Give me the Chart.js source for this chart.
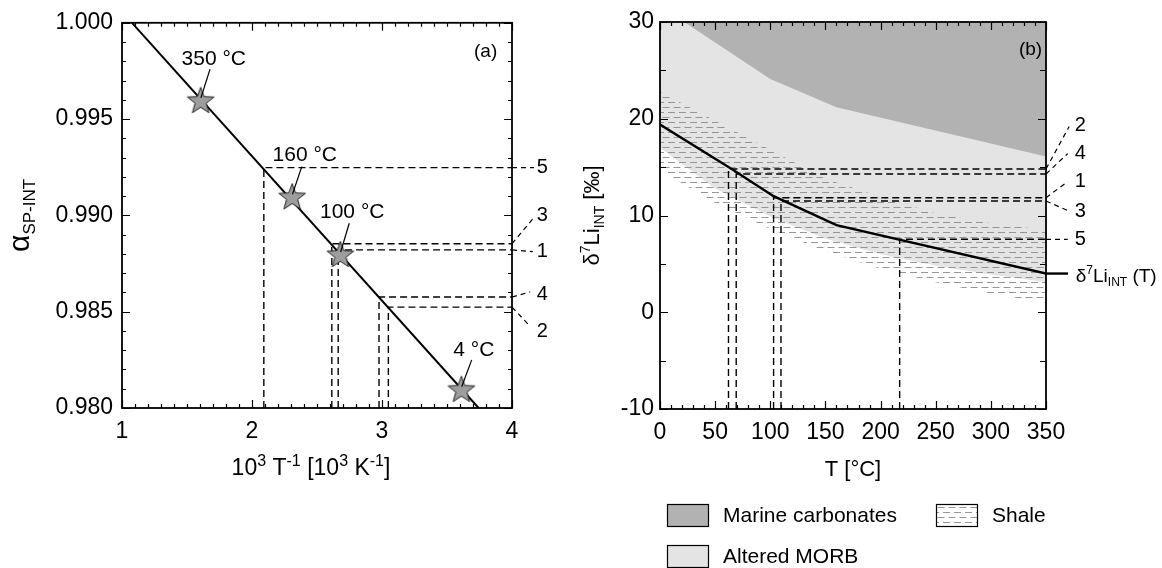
<!DOCTYPE html>
<html>
<head>
<meta charset="utf-8">
<script src="https://cdn.jsdelivr.net/npm/chart.js@4.4.1/dist/chart.umd.min.js"></script>
<style>
html, body { margin: 0; padding: 0; background: #fff; }
#wrap { position: relative; width: 1162px; height: 568px; }
#chartA { position: absolute; left: 0; top: 0; width: 580px; height: 568px; }
#chartB { position: absolute; left: 580px; top: 0; width: 582px; height: 568px; }
</style>
</head>
<body>
<div id="wrap">
<canvas id="chartA" width="580" height="568"></canvas>
<canvas id="chartB" width="582" height="568"></canvas>
</div>
<script>
var FONT = '"Liberation Sans", Arial, Helvetica, sans-serif'

// ---- panel (a) : alpha vs 1000/T ----
var fitInvT = [1.077, 3.743]
var fitAlpha = [1.000, 0.980]

var starLabels = ['350 °C', '160 °C', '100 °C', '4 °C']
var starInvT = [1.605, 2.309, 2.680, 3.611]
var starAlpha = [0.9960, 0.9910, 0.9880, 0.9810]
var starTagInvT = [1.706, 2.406, 2.771, 3.706]
var starTagAlpha = [0.99809, 0.99314, 0.99015, 0.98302]
var starLeadInvT = [1.677, 2.383, 2.748, 3.690]
var starLeadAlpha = [0.99759, 0.99253, 0.98959, 0.98250]

var samplesA = ['5', '3', '1', '4', '2']
var sampleInvT = [2.091, 2.614, 2.663, 2.977, 3.049]
var sampleAlpha = [0.99248, 0.98853, 0.98821, 0.98576, 0.98524]
var tagEndInvT = [4.17, 4.17, 4.16, 4.14, 4.13]
var tagEndAlpha = [0.99248, 0.98990, 0.98812, 0.98603, 0.98431]
var tagAlpha = [0.99248, 0.98998, 0.98814, 0.98590, 0.98397]
var tagInvT = 4.19

// ---- panel (b) : delta7Li vs T ----
var curveT = [0, 65, 103, 160, 350]
var curveDelta = [19.4, 14.8, 12.0, 9.0, 4.0]
var curveTailT = [350, 370]

var carbT = [22, 100, 160, 350]
var carbLow = [30, 24.1, 21.2, 16.1]
var morbT = [0, 50, 100, 150, 200, 250, 300, 350]
var morbLow = [17.0, 12.8, 9.9, 7.6, 6.0, 4.8, 3.9, 3.1]
var shaleT = [0, 50, 100, 150, 200, 250, 300, 350]
var shaleTop = [22.8, 19.8, 16.8, 13.8, 11.9, 10.2, 9.2, 8.5]
var shaleBottom = [14.7, 11.3, 8.6, 6.3, 4.5, 3.1, 1.9, 1.0]

var samplesB = ['2', '4', '1', '3', '5']
var sampleT = [62.1, 69.1, 103.0, 109.7, 217.3]
var sampleDelta = [14.81, 14.29, 11.84, 11.50, 7.54]
var tagEndT = [371, 369.7, 369.7, 371.8, 369.7]
var tagEndDelta = [19.2, 16.4, 13.5, 10.4, 7.54]
var tagDelta = [19.35, 16.43, 13.5, 10.4, 7.5]
var tagT = 376

var legendLabels = ['Marine carbonates', 'Shale', 'Altered MORB']
var carbColor = '#b2b2b2'
var morbColor = '#e4e4e4'

function pts(xs, ys) {
	return xs.map(function (x, i) { return { x: x, y: ys[i] } })
}

// hatch used for the shale field
function makeHatch() {
	var c = document.createElement('canvas')
	c.width = 22
	c.height = 10
	var g = c.getContext('2d')
	g.strokeStyle = '#959595'
	g.lineWidth = 1
	g.beginPath()
	g.moveTo(0, 2.5); g.lineTo(7, 2.5)
	g.moveTo(11, 2.5); g.lineTo(18, 2.5)
	g.moveTo(5.5, 7.5); g.lineTo(12.5, 7.5)
	g.moveTo(16.5, 7.5); g.lineTo(22, 7.5)
	g.moveTo(0, 7.5); g.lineTo(1.5, 7.5)
	g.stroke()
	return g.createPattern(c, 'repeat')
}
var hatch = makeHatch()

// grey five point star
function makeStar(r) {
	var s = Math.ceil(r * 2 + 4)
	var c = document.createElement('canvas')
	c.width = s
	c.height = s
	var g = c.getContext('2d')
	g.beginPath()
	for (var i = 0; i < 10; i++) {
		var rad = i % 2 ? r * 0.42 : r
		var a = -Math.PI / 2 + i * Math.PI / 5
		g.lineTo(s / 2 + rad * Math.cos(a), s / 2 + 1.5 + rad * Math.sin(a))
	}
	g.closePath()
	g.fillStyle = '#9d9d9d'
	g.fill()
	g.strokeStyle = '#222'
	g.lineWidth = 1
	g.stroke()
	return c
}
var star = makeStar(14)

// text with sub / superscripts, parts = [text, size, dy]
function rich(ctx, parts, x, y, align, rot) {
	ctx.save()
	ctx.translate(x, y)
	if (rot) ctx.rotate(rot)
	ctx.textBaseline = 'alphabetic'
	ctx.textAlign = 'left'
	ctx.fillStyle = '#000'
	var w = 0
	parts.forEach(function (p) {
		ctx.font = p[1] + 'px ' + FONT
		w += ctx.measureText(p[0]).width
	})
	var cx = align === 'center' ? -w / 2 : 0
	parts.forEach(function (p) {
		ctx.font = p[1] + 'px ' + FONT
		ctx.fillText(p[0], cx, p[2] || 0)
		cx += ctx.measureText(p[0]).width
	})
	ctx.restore()
}

// frame + inward ticks on all four sides
function drawFrame(chart, xMin, xMax, xStep, xEvery, yMin, yMax, yStep, yEvery, yMinorLen) {
	var ctx = chart.ctx, a = chart.chartArea, sx = chart.scales.x, sy = chart.scales.y
	ctx.save()
	ctx.strokeStyle = '#000'
	ctx.lineWidth = 1.2
	ctx.beginPath()
	var n = Math.round((xMax - xMin) / xStep)
	for (var i = 0; i <= n; i++) {
		var px = Math.round(sx.getPixelForValue(xMin + i * xStep)) + 0.5
		var len = i % xEvery === 0 ? 8 : 4
		ctx.moveTo(px, a.bottom); ctx.lineTo(px, a.bottom - len)
		ctx.moveTo(px, a.top); ctx.lineTo(px, a.top + len)
	}
	n = Math.round((yMax - yMin) / yStep)
	for (var j = 0; j <= n; j++) {
		var py = Math.round(sy.getPixelForValue(yMin + j * yStep)) + 0.5
		var l = j % yEvery === 0 ? 8 : yMinorLen
		ctx.moveTo(a.left, py); ctx.lineTo(a.left + l, py)
		ctx.moveTo(a.right, py); ctx.lineTo(a.right - l, py)
	}
	ctx.stroke()
	ctx.lineWidth = 1.8
	ctx.strokeRect(a.left, a.top, a.right - a.left, a.bottom - a.top)
	ctx.restore()
}

function axisOpts(min, max, step, pad, fit) {
	return {
		type: 'linear', min: min, max: max,
		grid: { display: false, drawTicks: false },
		border: { display: false },
		ticks: { stepSize: step, padding: pad, color: '#000', font: { family: FONT, size: 23 } },
		afterFit: fit
	}
}

var dash = [7, 4]

// ---------- chart (a) ----------
var dsA = []
dsA.push({ data: pts(fitInvT, fitAlpha), borderColor: '#000', borderWidth: 2, pointRadius: 0, order: 3 })
dsA.push({ data: pts(starInvT, starAlpha), showLine: false, pointStyle: star, pointRadius: 10, order: 1 })
samplesA.forEach(function (s, i) {
	dsA.push({
		data: pts([sampleInvT[i], sampleInvT[i], 4], [0.98, sampleAlpha[i], sampleAlpha[i]]),
		borderColor: '#000', borderWidth: 1.4, borderDash: dash, pointRadius: 0, order: 5
	})
	dsA.push({
		data: pts([4, tagEndInvT[i]], [sampleAlpha[i], tagEndAlpha[i]]),
		borderColor: '#000', borderWidth: 1.2, borderDash: [5, 4], pointRadius: 0, clip: false, order: 5
	})
})
starLabels.forEach(function (s, i) {
	dsA.push({
		data: pts([starLeadInvT[i], starInvT[i] + 0.002], [starLeadAlpha[i], starAlpha[i] + 0.0001]),
		borderColor: '#000', borderWidth: 1.2, pointRadius: 0, order: 0
	})
})

var textA = {
	id: 'textA',
	afterDraw: function (chart) {
		var ctx = chart.ctx, sx = chart.scales.x, sy = chart.scales.y, a = chart.chartArea
		drawFrame(chart, 1, 4, 0.1, 10, 0.98, 1.0, 0.001, 5, 4)
		ctx.save()
		ctx.fillStyle = '#000'
		ctx.textBaseline = 'middle'
		ctx.textAlign = 'center'
		ctx.font = '21px ' + FONT
		starLabels.forEach(function (s, i) {
			ctx.fillText(s, sx.getPixelForValue(starTagInvT[i]), sy.getPixelForValue(starTagAlpha[i]))
		})
		ctx.font = '19px ' + FONT
		ctx.fillText('(a)', sx.getPixelForValue(3.797), sy.getPixelForValue(0.99852))
		ctx.textAlign = 'left'
		ctx.font = '20px ' + FONT
		samplesA.forEach(function (s, i) {
			ctx.fillText(s, sx.getPixelForValue(tagInvT), sy.getPixelForValue(tagAlpha[i]))
		})
		ctx.restore()
		rich(ctx, [['10', 23], ['3', 16, -9], [' T', 23], ['-1', 16, -9], [' [10', 23], ['3', 16, -9], [' K', 23], ['-1', 16, -9], [']', 23]],
			(a.left + a.right) / 2 - 6, 475, 'center')
		rich(ctx, [['\u03b1', 30], ['SP-INT', 17, 6]], 29, (a.top + a.bottom) / 2, 'center', -Math.PI / 2)
	}
}

var yA = axisOpts(0.98, 1.0, 0.005, 9, function (s) { s.width = 122 })
yA.ticks.callback = function (v) { return Number(v).toFixed(3) }

new Chart(document.getElementById('chartA'), {
	type: 'line',
	data: { datasets: dsA },
	options: {
		responsive: false, animation: false, devicePixelRatio: 1,
		layout: { padding: { left: 0, top: 22, right: 68, bottom: 0 } },
		plugins: { legend: { display: false }, tooltip: { enabled: false } },
		scales: {
			x: axisOpts(1, 4, 1, 10, function (s) { s.height = 160 }),
			y: yA
		}
	},
	plugins: [textA]
})

// ---------- chart (b) ----------
var dsB = []
dsB.push({ data: pts(morbT, morbLow), borderWidth: 0, pointRadius: 0, fill: 'end', backgroundColor: morbColor, order: 10 })
dsB.push({ data: pts(carbT, carbLow), borderWidth: 0, pointRadius: 0, fill: 'end', backgroundColor: carbColor, order: 9 })
dsB.push({ data: pts(shaleT, shaleTop), borderWidth: 0, pointRadius: 0, fill: '+1', backgroundColor: hatch, order: 8 })
dsB.push({ data: pts(shaleT, shaleBottom), borderWidth: 0, pointRadius: 0, fill: false, order: 7 })
samplesB.forEach(function (s, i) {
	dsB.push({
		data: pts([sampleT[i], sampleT[i], 350], [-10, sampleDelta[i], sampleDelta[i]]),
		borderColor: '#000', borderWidth: 1.4, borderDash: dash, pointRadius: 0, order: 5
	})
	dsB.push({
		data: pts([350, tagEndT[i]], [sampleDelta[i], tagEndDelta[i]]),
		borderColor: '#000', borderWidth: 1.2, borderDash: [5, 4], pointRadius: 0, clip: false, order: 5
	})
})
dsB.push({ data: pts(curveT, curveDelta), borderColor: '#000', borderWidth: 2.4, pointRadius: 0, order: 3 })
dsB.push({ data: pts(curveTailT, [4.0, 4.0]), borderColor: '#000', borderWidth: 2.4, pointRadius: 0, clip: false, order: 3 })

var textB = {
	id: 'textB',
	afterDraw: function (chart) {
		var ctx = chart.ctx, sx = chart.scales.x, sy = chart.scales.y, a = chart.chartArea
		drawFrame(chart, 0, 350, 10, 5, -10, 30, 5, 2, 6)
		ctx.save()
		ctx.fillStyle = '#000'
		ctx.textBaseline = 'middle'
		ctx.textAlign = 'center'
		ctx.font = '19px ' + FONT
		ctx.fillText('(b)', sx.getPixelForValue(336), sy.getPixelForValue(27.1))
		ctx.textAlign = 'left'
		ctx.font = '20px ' + FONT
		samplesB.forEach(function (s, i) {
			ctx.fillText(s, sx.getPixelForValue(tagT), sy.getPixelForValue(tagDelta[i]))
		})
		ctx.restore()
		rich(ctx, [['\u03b4', 19], ['7', 12, -8], ['Li', 19], ['INT', 12, 4], [' (T)', 19]],
			sx.getPixelForValue(377), sy.getPixelForValue(3.1), 'left')
		rich(ctx, [['T [\u00b0C]', 22]], (a.left + a.right) / 2, 476, 'center')
		rich(ctx, [['\u03b4', 22], ['7', 14, -9], ['Li', 22], ['INT', 14, 5], [' [\u2030]', 22]], 19, (a.top + a.bottom) / 2, 'center', -Math.PI / 2)

		// legend
		var boxes = [[a.left + 7, 504, carbColor], [a.left + 276, 504, hatch], [a.left + 7, 545, morbColor]]
		ctx.save()
		legendLabels.forEach(function (s, i) {
			var b = boxes[i]
			ctx.fillStyle = '#fff'
			ctx.fillRect(b[0], b[1], 41, 22)
			ctx.fillStyle = b[2]
			ctx.fillRect(b[0], b[1], 41, 22)
			ctx.strokeStyle = '#000'
			ctx.lineWidth = 1.2
			ctx.strokeRect(b[0] + 0.5, b[1] + 0.5, 41, 22)
			ctx.fillStyle = '#000'
			ctx.font = '21px ' + FONT
			ctx.textAlign = 'left'
			ctx.textBaseline = 'middle'
			ctx.fillText(s, b[0] + 56, b[1] + 12)
		})
		ctx.restore()
	}
}

new Chart(document.getElementById('chartB'), {
	type: 'line',
	data: { datasets: dsB },
	options: {
		responsive: false, animation: false, devicePixelRatio: 1,
		layout: { padding: { left: 0, top: 22, right: 116, bottom: 0 } },
		plugins: { legend: { display: false }, tooltip: { enabled: false } },
		scales: {
			x: axisOpts(0, 350, 50, 10, function (s) { s.height = 159 }),
			y: axisOpts(-10, 30, 10, 6, function (s) { s.width = 80 })
		}
	},
	plugins: [textB]
})
</script>
</body>
</html>
